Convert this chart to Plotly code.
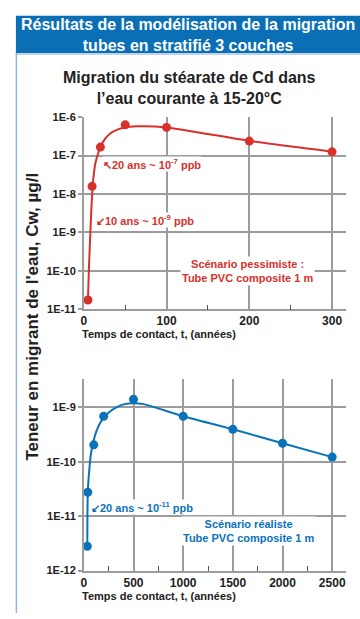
import plotly.graph_objects as go

# ---- data ----
top_t = [5, 10, 20, 50, 100, 200, 300]
top_cw = [1.74e-11, 1.58e-8, 1.66e-7, 6.3e-7, 5.4e-7, 2.38e-7, 1.25e-7]
top_fit_t = [5, 6.2, 7.8, 9.3, 11.4, 14.1, 17.4, 23.4, 31.4, 41.3, 53.3, 65.3, 100, 200, 300]
top_fit_cw = [1.74e-11, 1.23e-10, 8.7e-10, 5.0e-9, 2.4e-8, 6.5e-8, 1.15e-7, 2.3e-7,
              3.7e-7, 4.8e-7, 5.5e-7, 5.75e-7, 5.4e-7, 2.4e-7, 1.26e-7]

bot_t = [35, 40, 100, 200, 500, 1000, 1500, 2000, 2500]
bot_cw = [2.8e-12, 2.75e-11, 2.05e-10, 6.9e-10, 1.41e-9, 6.9e-10, 3.95e-10, 2.2e-10, 1.22e-10]
bot_fit_t = [35, 40, 55, 72, 95, 128, 175, 245, 327, 411, 501, 601, 1000, 1500, 2000, 2500]
bot_fit_cw = [2.8e-12, 2.75e-11, 7.1e-11, 1.41e-10, 2.3e-10, 3.7e-10, 5.6e-10, 7.9e-10,
              1.0e-9, 1.15e-9, 1.2e-9, 1.15e-9, 6.9e-10, 3.98e-10, 2.19e-10, 1.22e-10]

top_xticks = [0, 100, 200, 300]
top_xminor = [50, 150, 250]
top_yticks = [1e-11, 1e-10, 1e-9, 1e-8, 1e-7, 1e-6]
top_ylabels = ["1E-11", "1E-10", "1E-9", "1E-8", "1E-7", "1E-6"]

bot_xticks = [0, 500, 1000, 1500, 2000, 2500]
bot_xminor = [250, 750, 1250, 1750, 2250]
bot_yticks = [1e-12, 1e-11, 1e-10, 1e-9]
bot_ylabels = ["1E-12", "1E-11", "1E-10", "1E-9"]

RED = "#d8312b"
BLUE = "#0b72b9"
HEAD = "#0a6fb4"
GRID = "#9c9c9c"
TXT = "#222222"
FONT = "Liberation Sans, Arial, sans-serif"

W, H = 360, 619
def px(x):
    return x / W
def py(y):
    return 1 - y / H

fig = go.Figure()
fig.add_trace(go.Scatter(x=top_fit_t, y=top_fit_cw, mode="lines", line=dict(color=RED, width=2, shape="spline", smoothing=0.6),
                         xaxis="x", yaxis="y", hoverinfo="skip"))
fig.add_trace(go.Scatter(x=top_t, y=top_cw, mode="markers", marker=dict(color=RED, size=9), xaxis="x", yaxis="y"))
fig.add_trace(go.Scatter(x=bot_fit_t, y=bot_fit_cw, mode="lines", line=dict(color=BLUE, width=2, shape="spline", smoothing=0.6),
                         xaxis="x2", yaxis="y2", hoverinfo="skip"))
fig.add_trace(go.Scatter(x=bot_t, y=bot_cw, mode="markers", marker=dict(color=BLUE, size=9), xaxis="x2", yaxis="y2"))

xdom = [px(81.5), px(346)]
top_dom = [py(309.3), py(113.3)]
bot_dom = [py(575.7), py(380)]

common_x = dict(showgrid=True, gridcolor=GRID, gridwidth=1.5, showline=True, linecolor=GRID, linewidth=1.5,
                ticks="", tickfont=dict(family=FONT, size=12, color=TXT, weight="bold"), zeroline=False)
common_y = dict(type="log", showgrid=True, gridcolor=GRID, gridwidth=1.5, showline=True, linecolor=GRID, linewidth=1.5,
                ticks="outside", ticklen=4, tickcolor=GRID, tickwidth=1.5,
                tickfont=dict(family=FONT, size=11, color=TXT, weight="bold"), zeroline=False)

fig.update_layout(
    width=W, height=H, margin=dict(l=0, r=0, t=0, b=0),
    paper_bgcolor="white", plot_bgcolor="white", showlegend=False,
    xaxis=dict(domain=xdom, anchor="y", range=[0, 317], tickvals=top_xticks,
               minor=dict(tickvals=top_xminor, ticks="inside", ticklen=5, tickcolor="#555", showgrid=False),
               **common_x),
    yaxis=dict(domain=top_dom, anchor="x", range=[-11, -6], tickvals=top_yticks, ticktext=top_ylabels, **common_y),
    xaxis2=dict(domain=xdom, anchor="y2", range=[0, 2640], tickvals=bot_xticks,
                minor=dict(tickvals=bot_xminor, ticks="inside", ticklen=5, tickcolor="#555", showgrid=False),
                **common_x),
    yaxis2=dict(domain=bot_dom, anchor="x2", range=[-12, -8.47], tickvals=bot_yticks, ticktext=bot_ylabels, **common_y),
    xaxis3=dict(overlaying="x", anchor="y", side="top", range=[0, 317], tickvals=top_xminor, ticks="inside", ticklen=5,
                tickcolor="#555", showticklabels=False, showgrid=False, showline=False, zeroline=False),
    xaxis4=dict(overlaying="x2", anchor="y2", side="top", range=[0, 2640], tickvals=bot_xminor, ticks="inside", ticklen=5,
                tickcolor="#555", showticklabels=False, showgrid=False, showline=False, zeroline=False),
)

shapes = [
    dict(type="rect", xref="paper", yref="paper", x0=px(13), x1=1, y0=py(48), y1=py(10), fillcolor=HEAD, line=dict(width=0), layer="below"),
    dict(type="line", xref="paper", yref="paper", x0=px(13), x1=1, y0=py(49), y1=py(49), line=dict(color="#a9c6e0", width=1.5)),
    dict(type="line", xref="paper", yref="paper", x0=px(13.5), x1=px(13.5), y0=0, y1=py(48), line=dict(color="#8fb5da", width=1.5)),
]
fig.update_layout(shapes=shapes)

ann = []
ann.append(dict(text="<b>Résultats de la modélisation de la migration<br>tubes en stratifié 3 couches</b>",
                xref="paper", yref="paper", x=px(187), y=py(30), xanchor="center", yanchor="middle",
                showarrow=False, font=dict(family=FONT, size=16, color="white")))
ann.append(dict(text="<b>Migration du stéarate de Cd dans<br>l’eau courante à 15-20°C</b>",
                xref="paper", yref="paper", x=px(188), y=py(84), xanchor="center", yanchor="middle",
                showarrow=False, font=dict(family=FONT, size=16, color=TXT)))
ann.append(dict(text="<b>Teneur en migrant de l'eau, Cw, µg/l</b>", textangle=-90,
                xref="paper", yref="paper", x=px(30), y=py(317), xanchor="center", yanchor="middle",
                showarrow=False, font=dict(family=FONT, size=17, color=TXT)))
for yy in (334.5, 601.5):
    ann.append(dict(text="<b>Temps de contact, t, (années)</b>", xref="paper", yref="paper", x=px(78), y=py(yy),
                    xanchor="left", yanchor="middle", showarrow=False, font=dict(family=FONT, size=11, color=TXT)))

ann.append(dict(text="<b>↖20 ans ~ 10<sup>-7</sup> ppb</b>", xref="x", yref="y", x=22, y=-7.22, xanchor="left", yanchor="middle",
                showarrow=False, bgcolor="white", borderpad=0, font=dict(family=FONT, size=11, color=RED)))
ann.append(dict(text="<b>↙10 ans ~ 10<sup>-9</sup> ppb</b>", xref="x", yref="y", x=13.4, y=-8.67, xanchor="left", yanchor="middle",
                showarrow=False, bgcolor="white", borderpad=0, font=dict(family=FONT, size=11, color=RED)))
ann.append(dict(text="<b>Scénario pessimiste :<br>Tube PVC composite 1 m</b>", xref="x", yref="y", x=198, y=-10.0,
                xanchor="center", yanchor="middle", showarrow=False, bgcolor="white", borderpad=1,
                font=dict(family=FONT, size=11, color=RED)))
ann.append(dict(text="<b>↙20 ans ~ 10<sup>-11</sup> ppb</b>", xref="x2", yref="y2", x=65, y=-10.83, xanchor="left", yanchor="middle",
                showarrow=False, bgcolor="white", borderpad=0, font=dict(family=FONT, size=11, color=BLUE)))
ann.append(dict(text="<b>Scénario réaliste<br>Tube PVC composite 1 m</b>", xref="x2", yref="y2", x=1662, y=-11.28,
                xanchor="center", yanchor="middle", showarrow=False, bgcolor="white", borderpad=1,
                font=dict(family=FONT, size=11, color=BLUE)))
fig.update_layout(annotations=ann)

fig.write_html("out.html", config={"displayModeBar": False},
               post_script="document.body.style.margin='0';document.body.style.padding='0';")
